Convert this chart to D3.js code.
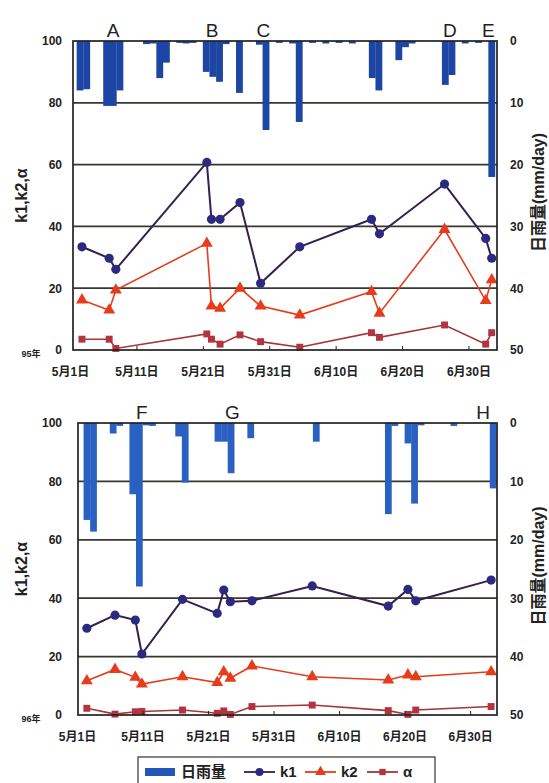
<!DOCTYPE html>
<html>
<head>
<meta charset="utf-8">
<script src="https://cdn.jsdelivr.net/npm/d3@7"></script>
<style>
body { margin: 0; background: #fff; }
svg { display: block; font-family: "Liberation Sans", Arial, "Noto Sans CJK JP", sans-serif; }
</style>
</head>
<body>
<svg id="chart" width="549" height="783"></svg>
<script>
// x values are days after May 1 (0:00)
const TICK_DAYS = [0, 10, 20, 30, 40, 50, 60]
const K_TICKS = [0, 20, 40, 60, 80, 100]
const GRID_TICKS = [20, 40, 60, 80]
const RAIN_TICKS = [0, 10, 20, 30, 40, 50]

// 1995 - upper panel
const rainDay95 = [1, 2, 5, 6, 7, 11, 12, 13, 14, 16, 17, 18, 20, 21, 22, 23, 25, 28, 29, 31, 33, 34, 36, 38, 40, 42, 45, 46, 49, 50, 51, 56, 57, 59, 61, 63]
const rain95 = [8.0, 7.8, 10.5, 10.5, 8.0, 0.5, 0.4, 6.0, 3.5, 0.3, 0.4, 0.3, 5.0, 5.8, 6.6, 0.5, 8.4, 0.6, 14.4, 0.3, 0.4, 13.1, 0.3, 0.4, 0.3, 0.4, 6.0, 8.0, 3.1, 1.0, 0.4, 7.1, 5.5, 0.4, 0.3, 22.0]
const obsDay95 = [1.8, 5.9, 6.9, 20.6, 21.3, 22.6, 25.6, 28.7, 34.6, 45.4, 46.6, 56.4, 62.6, 63.5]
const k1_95 = [33.4, 29.7, 26.1, 60.7, 42.3, 42.3, 47.7, 21.6, 33.4, 42.3, 37.6, 53.7, 36.1, 29.7]
const k2_95 = [16.2, 12.9, 19.4, 34.5, 14.2, 13.5, 20.0, 14.2, 11.3, 18.9, 11.9, 39.0, 16.0, 22.7]
const alpha95 = [3.5, 3.5, 0.5, 5.2, 3.5, 1.9, 4.9, 2.7, 0.9, 5.6, 4.1, 8.1, 1.9, 5.6]
const mark95 = ["A", "B", "C", "D", "E"]
const markDay95 = [6.5, 21.4, 29.1, 57.2, 63.0]

// 1996 - lower panel
const rainDay96 = [1, 2, 5, 6, 8, 9, 10, 11, 15, 16, 21, 22, 23, 26, 36, 47, 48, 50, 51, 52, 57, 63]
const rain96 = [16.6, 18.6, 1.8, 0.5, 12.2, 28.0, 0.4, 0.5, 2.3, 10.2, 3.2, 3.2, 8.6, 2.6, 3.2, 15.6, 0.5, 3.5, 13.8, 0.4, 0.5, 11.2]
const obsDay96 = [1.5, 5.8, 8.9, 9.9, 16.1, 21.4, 22.4, 23.4, 26.7, 35.9, 47.5, 50.5, 51.7, 63.2]
const k1_96 = [29.7, 34.2, 32.5, 20.9, 39.6, 34.8, 42.8, 38.8, 39.1, 44.2, 37.3, 43.0, 39.1, 46.2]
const k2_96 = [11.7, 15.6, 12.9, 10.6, 13.1, 11.1, 14.8, 12.6, 16.8, 13.1, 12.0, 13.7, 13.1, 14.8]
const alpha96 = [2.3, 0.3, 1.1, 1.2, 1.7, 0.6, 1.4, 0.2, 2.9, 3.4, 1.5, 0.2, 1.7, 2.9]
const mark96 = ["F", "G", "H"]
const markDay96 = [9.9, 23.7, 62.0]

const K1_LINE = "#33204f", K1_DOT = "#2c2a7e"
const K2_COLOR = "#e63c1c"
const A_LINE = "#a8343a", A_DOT = "#b3343e"
const TEXT = "#222"

const svg = d3.select("#chart")

function dayLabel(year, d) {
    var t = d3.timeDay.offset(new Date(year, 4, 1), d)
    return (t.getMonth() + 1) + "月" + t.getDate() + "日"
}

function drawPanel(p) {
    var x = d3.scaleLinear().domain(p.domain).range([p.left, p.right])
    var y = d3.scaleLinear().domain([0, 100]).range([p.bottom, p.top])
    var yr = d3.scaleLinear().domain([0, 50]).range([p.top, p.bottom])
    var g = svg.append("g")

    g.selectAll(".grid")
        .data(GRID_TICKS)
        .enter().append("line")
        .attr("x1", p.left).attr("x2", p.right)
        .attr("y1", d => y(d)).attr("y2", d => y(d))
        .attr("stroke", "#38382e")
        .attr("stroke-width", 1.7)

    // daily rain hangs down from the top edge
    var dayW = x(1) - x(0)
    g.selectAll(".rain")
        .data(p.rainDay)
        .enter().append("rect")
        .attr("x", d => x(d))
        .attr("width", dayW + 0.2)
        .attr("y", p.top)
        .attr("height", (d, i) => yr(p.rain[i]) - p.top)
        .attr("fill", p.barColor)

    var series = [
        { vals: p.alpha, line: A_LINE, dot: A_DOT, type: d3.symbolSquare, size: 48, w: 1.6 },
        { vals: p.k2, line: K2_COLOR, dot: K2_COLOR, type: d3.symbolTriangle, size: 62, w: 1.6 },
        { vals: p.k1, line: K1_LINE, dot: K1_DOT, type: d3.symbolCircle, size: 66, w: 2 }
    ]
    series.forEach(s => {
        var pts = p.obsDay.map((d, i) => [x(d), y(s.vals[i])])
        g.append("path")
            .attr("d", d3.line()(pts))
            .attr("fill", "none")
            .attr("stroke", s.line)
            .attr("stroke-width", s.w)
        g.selectAll(null)
            .data(pts)
            .enter().append("path")
            .attr("transform", d => "translate(" + d[0] + "," + d[1] + ")")
            .attr("d", d3.symbol().type(s.type).size(s.size))
            .attr("fill", s.dot)
    })

    g.append("rect")
        .attr("x", p.left).attr("y", p.top)
        .attr("width", p.right - p.left).attr("height", p.bottom - p.top)
        .attr("fill", "none")
        .attr("stroke", "#222")
        .attr("stroke-width", 1.7)

    var xAxis = g.append("g")
        .attr("transform", "translate(0," + p.bottom + ")")
        .call(d3.axisBottom(x).tickValues(TICK_DAYS).tickSize(-4).tickPadding(17).tickFormat(d => dayLabel(p.year, d)))
        .attr("font-family", null).attr("font-size", 12).attr("font-weight", "bold")
    xAxis.select(".domain").remove()
    xAxis.selectAll(".tick line").attr("stroke", "#222").filter(d => x(d) < p.left + 2).remove()
    xAxis.selectAll("text").attr("fill", TEXT)

    var yAxis = g.append("g")
        .attr("transform", "translate(" + p.left + ",0)")
        .call(d3.axisLeft(y).tickValues(K_TICKS).tickSize(0).tickPadding(p.leftPad))
        .attr("font-family", null).attr("font-size", 12).attr("font-weight", "bold")
    yAxis.select(".domain").remove()
    yAxis.selectAll("text").attr("fill", TEXT)

    var rAxis = g.append("g")
        .attr("transform", "translate(" + p.right + ",0)")
        .call(d3.axisRight(yr).tickValues(RAIN_TICKS).tickSize(0).tickPadding(13))
        .attr("font-family", null).attr("font-size", 12).attr("font-weight", "bold")
    rAxis.select(".domain").remove()
    rAxis.selectAll("text").attr("fill", TEXT)

    g.selectAll(".mark")
        .data(p.marks)
        .enter().append("text")
        .attr("x", (d, i) => x(p.markDay[i]))
        .attr("y", p.top - 4)
        .attr("text-anchor", "middle")
        .attr("font-size", 19)
        .attr("fill", TEXT)
        .text(d => d)

    g.append("text")
        .attr("x", 31).attr("y", p.bottom + 7)
        .attr("text-anchor", "middle")
        .attr("font-size", 9)
        .attr("font-weight", "bold")
        .attr("fill", TEXT)
        .text(p.yearLabel)

    var mid = (p.top + p.bottom) / 2
    g.append("text")
        .attr("transform", "translate(27," + mid + ") rotate(-90)")
        .attr("text-anchor", "middle")
        .attr("font-size", 16)
        .attr("font-weight", "bold")
        .attr("fill", TEXT)
        .text("k1,k2,α")

    g.append("text")
        .attr("transform", "translate(544," + (mid - 3) + ") rotate(-90)")
        .attr("text-anchor", "middle")
        .attr("font-size", 16)
        .attr("font-weight", "bold")
        .attr("fill", TEXT)
        .text("日雨量(mm/day)")
}

drawPanel({
    left: 73, right: 497, top: 41, bottom: 350, domain: [0.45, 64.3], leftPad: 11,
    year: 1995, yearLabel: "95年", barColor: "#1d45a3",
    rainDay: rainDay95, rain: rain95, obsDay: obsDay95,
    k1: k1_95, k2: k2_95, alpha: alpha95, marks: mark95, markDay: markDay95
})

drawPanel({
    left: 78, right: 497, top: 423, bottom: 715, domain: [0.15, 64.1], leftPad: 16,
    year: 1996, yearLabel: "96年", barColor: "#2a60c2",
    rainDay: rainDay96, rain: rain96, obsDay: obsDay96,
    k1: k1_96, k2: k2_96, alpha: alpha96, marks: mark96, markDay: markDay96
})

// legend
var legend = svg.append("g")
legend.append("rect")
    .attr("x", 138).attr("y", 757).attr("width", 297).attr("height", 40)
    .attr("fill", "none").attr("stroke", "#333").attr("stroke-width", 1.2)

var legendItems = [
    { name: "日雨量", kind: "bar", x: 145 },
    { name: "k1", kind: "line", x: 244, line: K1_LINE, dot: K1_DOT, type: d3.symbolCircle, size: 50 },
    { name: "k2", kind: "line", x: 305, line: K2_COLOR, dot: K2_COLOR, type: d3.symbolTriangle, size: 50 },
    { name: "α", kind: "line", x: 367, line: A_LINE, dot: A_DOT, type: d3.symbolSquare, size: 40 }
]
var ly = 772
legendItems.forEach(it => {
    if (it.kind == "bar") {
        legend.append("rect").attr("x", it.x).attr("y", ly - 4).attr("width", 30).attr("height", 8).attr("fill", "#2157b8")
    } else {
        legend.append("line").attr("x1", it.x).attr("x2", it.x + 31).attr("y1", ly).attr("y2", ly)
            .attr("stroke", it.line).attr("stroke-width", 1.8)
        legend.append("path").attr("transform", "translate(" + (it.x + 15.5) + "," + ly + ")")
            .attr("d", d3.symbol().type(it.type).size(it.size)).attr("fill", it.dot)
    }
    legend.append("text").attr("x", it.x + 36).attr("y", ly + 5).attr("font-size", 15)
        .attr("font-weight", "bold").attr("fill", TEXT).text(it.name)
})
</script>
</body>
</html>
